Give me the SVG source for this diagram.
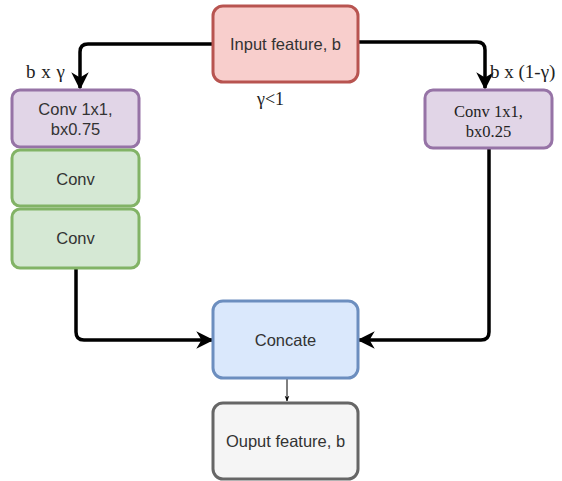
<svg xmlns="http://www.w3.org/2000/svg" width="562" height="481" viewBox="0 0 562 481">
<defs>
<style>
.box{stroke-width:3}
.t{font-family:"Liberation Sans",Arial,sans-serif;font-size:16.5px;fill:#333;text-anchor:middle}
.s{font-family:"Liberation Serif","Times New Roman",serif;fill:#222}
.c{fill:none;stroke:#000;stroke-width:3.5;stroke-linejoin:round}
</style>
<marker id="ah" viewBox="0 0 10 10" refX="9" refY="5" markerWidth="5" markerHeight="5" orient="auto" markerUnits="strokeWidth">
<path d="M0,0 L10,5 L0,10 L3,5 Z" fill="#000"/>
</marker>
<marker id="as" viewBox="0 0 10 10" refX="9" refY="5" markerWidth="6" markerHeight="6" orient="auto">
<path d="M0,1 L10,5 L0,9 L3,5 Z" fill="#000"/>
</marker>
</defs>
<rect width="562" height="481" fill="#fff"/>
<g id="connectors">
<path class="c" d="M213,44 H88 Q80,44 80,52 V88" marker-end="url(#ah)"/>
<path class="c" d="M358,42 H477 Q485,42 485,50 V88" marker-end="url(#ah)"/>
<path class="c" d="M76,268 V332 Q76,340 84,340 H212" marker-end="url(#ah)"/>
<path class="c" d="M489,148 V332 Q489,340 481,340 H359" marker-end="url(#ah)"/>
<path d="M287,378 V401" stroke="#000" stroke-width="1" fill="none" marker-end="url(#as)"/>
</g>
<g id="input">
<rect class="box" x="213" y="6" width="145" height="76" rx="10" fill="#f8cecc" stroke="#b85450"/>
<text class="t" x="285.5" y="50">Input feature, b</text>
</g>
<g id="conv1x1-left">
<rect class="box" x="12" y="90" width="127" height="57" rx="8" fill="#e1d5e7" stroke="#9673a6"/>
<text class="t" x="75.5" y="115">Conv 1x1,</text>
<text class="t" x="75.5" y="135">bx0.75</text>
</g>
<g id="conv-a">
<rect class="box" x="12" y="150" width="127" height="56" rx="8" fill="#d5e8d4" stroke="#82b366"/>
<text class="t" x="75.5" y="185">Conv</text>
</g>
<g id="conv-b">
<rect class="box" x="12" y="209" width="127" height="59" rx="8" fill="#d5e8d4" stroke="#82b366"/>
<text class="t" x="75.5" y="244">Conv</text>
</g>
<g id="conv1x1-right">
<rect class="box" x="425" y="90" width="127" height="58" rx="8" fill="#e1d5e7" stroke="#9673a6"/>
<text class="s" x="488.5" y="117" font-size="16.5" text-anchor="middle" fill="#333">Conv 1x1,</text>
<text class="s" x="488.5" y="137" font-size="16.5" text-anchor="middle" fill="#333">bx0.25</text>
</g>
<g id="concate">
<rect class="box" x="213" y="301" width="145" height="77" rx="10" fill="#dae8fc" stroke="#6c8ebf"/>
<text class="t" x="285.5" y="346">Concate</text>
</g>
<g id="output">
<rect class="box" x="213" y="403" width="145" height="76" rx="10" fill="#f5f5f5" stroke="#666666"/>
<text class="t" x="285.5" y="447">Ouput feature, b</text>
</g>
<g id="labels">
<text class="s" x="26" y="78" font-size="19" word-spacing="1">b x γ</text>
<text class="s" x="257" y="105" font-size="18">γ&lt;1</text>
<text class="s" x="490" y="78" font-size="19">b x (1-γ)</text>
</g>
</svg>
